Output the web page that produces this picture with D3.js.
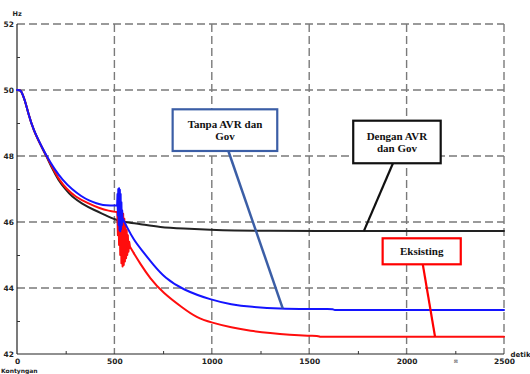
<!DOCTYPE html>
<html><head><meta charset="utf-8">
<script src="https://cdn.jsdelivr.net/npm/d3@7"></script>
<style>html,body{margin:0;padding:0;background:#fff;}svg{display:block;}</style>
</head><body>
<svg id="c" width="530" height="374"></svg>
<script>
// ---- data ----
const xTickLabels = [0, 500, 1000, 1500, 2000, 2500];
const xMinorTicks = [250, 750, 1250, 1750, 2250];
const yTickLabels = [42, 44, 46, 48, 50, 52];
const yMinorTicks = [43, 45, 47, 49, 51];
const xGrid = [500, 1000, 1500, 2000, 2500];
const yGrid = [44, 46, 48, 50, 52];

// Dengan AVR dan Gov (black)
const blackT = [0, 20, 26, 40, 58, 84, 127, 152, 182, 212, 250, 281, 332, 400, 450, 503, 550, 631, 734, 850, 1001, 1100, 1300, 1500, 2000, 2500];
const blackF = [50, 50, 49.9, 49.7, 49.29, 48.79, 48.27, 47.98, 47.6, 47.27, 46.98, 46.77, 46.56, 46.35, 46.22, 46.07, 46.0, 45.94, 45.84, 45.8, 45.76, 45.74, 45.73, 45.73, 45.73, 45.73];

// Tanpa AVR dan Gov (blue)
const blueT = [0, 20, 26, 40, 58, 84, 127, 152, 190, 234, 280, 332, 370, 409, 440, 480, 514,
  516, 518, 520, 522, 524, 526, 528, 530, 532, 534, 536, 538, 540, 542, 545,
  563, 600, 640, 700, 760, 850, 1000, 1100, 1200, 1350, 1500, 1610, 1620, 1632, 1645, 2000, 2500];
const blueF = [50, 50, 49.9, 49.7, 49.29, 48.79, 48.28, 48.0, 47.62, 47.27, 47.0, 46.77, 46.65, 46.56, 46.51, 46.5, 46.5,
  46.85, 46.2, 47.0, 45.9, 47.02, 45.76, 46.98, 45.72, 46.85, 45.78, 46.6, 45.9, 46.35, 46.0, 46.08,
  45.86, 45.45, 45.15, 44.7, 44.3, 43.95, 43.63, 43.5, 43.43, 43.37, 43.36, 43.36, 43.36, 43.33, 43.33, 43.33, 43.33];

// Eksisting (red)
const redT = [0, 20, 26, 40, 58, 84, 127, 152, 185, 217, 255, 298, 366, 426, 470, 512,
  515, 518, 521, 524, 527, 530, 533, 536, 539, 542, 545, 548, 551, 554, 557, 560, 563, 566, 569, 572, 576, 580,
  600, 631, 683, 750, 850, 922, 1000, 1100, 1200, 1300, 1400, 1500, 1545, 1555, 1565, 2000, 2500];
const redF = [50, 50, 49.9, 49.7, 49.29, 48.79, 48.27, 47.99, 47.62, 47.27, 47.0, 46.77, 46.56, 46.41, 46.34, 46.3,
  46.3, 45.6, 46.3, 45.3, 46.4, 45.0, 46.42, 44.75, 46.35, 44.65, 46.25, 44.7, 46.1, 44.8, 45.9, 44.9, 45.75, 45.0, 45.6, 45.1, 45.4, 45.25,
  45.05, 44.75, 44.29, 43.85, 43.4, 43.1, 42.95, 42.8, 42.7, 42.63, 42.58, 42.55, 42.55, 42.52, 42.52, 42.52, 42.52];

const seriesNames = ["Dengan AVR dan Gov", "Tanpa AVR dan Gov", "Eksisting"];
const annLines = [["Tanpa AVR dan", "Gov"], ["Dengan AVR", "dan Gov"], ["Eksisting"]];

// ---- layout ----
const svg = d3.select("#c");
const x = d3.scaleLinear().domain([0, 2500]).range([17, 504]);
const y = d3.scaleLinear().domain([42, 52]).range([354, 24]);

// grid
const gridG = svg.append("g").attr("stroke", "#7a7a7a").attr("stroke-width", 1.4).attr("stroke-dasharray", "8,4");
gridG.selectAll("line.v").data(xGrid).join("line").attr("class", "v")
  .attr("x1", d => x(d)).attr("x2", d => x(d)).attr("y1", y(52)).attr("y2", y(42));
gridG.selectAll("line.h").data(yGrid).join("line").attr("class", "h")
  .attr("x1", x(0)).attr("x2", x(2500)).attr("y1", d => y(d)).attr("y2", d => y(d));

// axes lines
svg.append("line").attr("x1", x(0)).attr("x2", x(0)).attr("y1", y(52)).attr("y2", y(42)).attr("stroke", "#222").attr("stroke-width", 1.2);
svg.append("line").attr("x1", x(0)).attr("x2", x(2500)).attr("y1", y(42)).attr("y2", y(42)).attr("stroke", "#222").attr("stroke-width", 1.2);

// minor ticks
svg.append("g").attr("transform", `translate(0,${y(42)})`)
  .call(d3.axisBottom(x).tickValues(xMinorTicks).tickSize(-3).tickFormat(""))
  .call(g => g.select(".domain").remove())
  .call(g => g.selectAll("line").attr("stroke", "#333"));
svg.append("g").attr("transform", `translate(${x(0)},0)`)
  .call(d3.axisLeft(y).tickValues(yMinorTicks).tickSize(-3).tickFormat(""))
  .call(g => g.select(".domain").remove())
  .call(g => g.selectAll("line").attr("stroke", "#333"));

// tick labels
const xa = svg.append("g").attr("transform", `translate(0,${y(42)})`)
  .call(d3.axisBottom(x).tickValues(xTickLabels).tickSize(0).tickPadding(5).tickFormat(d3.format("d")));
xa.select(".domain").remove();
xa.selectAll("text").attr("font-family", "DejaVu Sans").attr("font-weight", "bold").attr("font-size", 7.5).attr("fill", "#222");
const ya = svg.append("g").attr("transform", `translate(${x(0)},0)`)
  .call(d3.axisLeft(y).tickValues(yTickLabels).tickSize(0).tickPadding(3).tickFormat(d3.format("d")));
ya.select(".domain").remove();
ya.selectAll("text").attr("font-family", "DejaVu Sans").attr("font-weight", "bold").attr("font-size", 7.5).attr("fill", "#222");

svg.append("text").attr("x", 12.5).attr("y", 15.5).text("Hz")
  .attr("font-family", "DejaVu Sans").attr("font-weight", "bold").attr("font-size", 6.5).attr("fill", "#222");
svg.append("text").attr("x", 510.5).attr("y", 356.5).text("detik")
  .attr("font-family", "DejaVu Sans").attr("font-weight", "bold").attr("font-size", 7).attr("fill", "#222");
svg.append("text").attr("x", 1).attr("y", 372.5).text("Kontyngan")
  .attr("font-family", "DejaVu Sans").attr("font-weight", "bold").attr("font-size", 6).attr("fill", "#222");
svg.append("text").attr("x", x(2253)).attr("y", 363).attr("text-anchor", "middle").text("⊠")
  .attr("font-family", "DejaVu Sans").attr("font-size", 5).attr("fill", "#555");

// curves: smooth before/after the oscillation, straight zig-zag inside it
const smooth = d3.line().x(d => x(d[0])).y(d => y(d[1])).curve(d3.curveBasis);
const sharp = d3.line().x(d => x(d[0])).y(d => y(d[1])).curve(d3.curveLinear);
const series = [
  { name: seriesNames[0], t: blackT, f: blackF, color: "#222222", spike: null },
  { name: seriesNames[2], t: redT, f: redF, color: "#ff0d0d", spike: [512, 600] },
  { name: seriesNames[1], t: blueT, f: blueF, color: "#1414ff", spike: [514, 545] }
];
series.forEach(s => {
  const pts = s.t.map((t, i) => [t, s.f[i]]);
  const g = svg.append("g").attr("fill", "none").attr("stroke", s.color)
    .attr("stroke-width", 2).attr("stroke-linejoin", "round").attr("stroke-linecap", "round");
  if (!s.spike) {
    g.append("path").attr("d", smooth(pts));
  } else {
    const [a, b] = s.spike;
    g.append("path").attr("d", smooth(pts.filter(p => p[0] <= a)));
    g.append("path").attr("d", sharp(pts.filter(p => p[0] >= a && p[0] <= b)));
    g.append("path").attr("d", smooth(pts.filter(p => p[0] >= b)));
  }
});

// annotations (box corners and leader-line endpoints in data units)
const anns = [
  { lines: annLines[0], box: [799, 1336, 49.415, 48.152], from: [1085, 48.152], to: [1364, 43.385], color: "#3b5ea6", lw: 2.5 },
  { lines: annLines[1], box: [1726, 2175, 49.07, 47.78], from: [1930, 47.78], to: [1781, 45.73], color: "#111111", lw: 2.2 },
  { lines: annLines[2], box: [1877, 2278, 45.506, 44.718], from: [2083, 44.718], to: [2146, 42.524], color: "#ff0000", lw: 2.2 }
];
anns.forEach(a => {
  svg.append("line").attr("x1", x(a.from[0])).attr("y1", y(a.from[1]))
    .attr("x2", x(a.to[0])).attr("y2", y(a.to[1]))
    .attr("stroke", a.color).attr("stroke-width", a.lw);
  const x0 = x(a.box[0]), x1 = x(a.box[1]), y0 = y(a.box[2]), y1 = y(a.box[3]);
  svg.append("rect").attr("x", x0).attr("y", y0).attr("width", x1 - x0).attr("height", y1 - y0)
    .attr("fill", "#fff").attr("stroke", a.color).attr("stroke-width", 2.2);
  const n = a.lines.length, lh = 12.2, cy = (y0 + y1) / 2;
  a.lines.forEach((t, i) => {
    svg.append("text").attr("x", (x0 + x1) / 2).attr("y", cy + (i - (n - 1) / 2) * lh + 3.8)
      .attr("text-anchor", "middle").text(t)
      .attr("font-family", "Liberation Serif").attr("font-weight", "bold").attr("font-size", 11).attr("fill", "#111");
  });
});
</script>
</body></html>
